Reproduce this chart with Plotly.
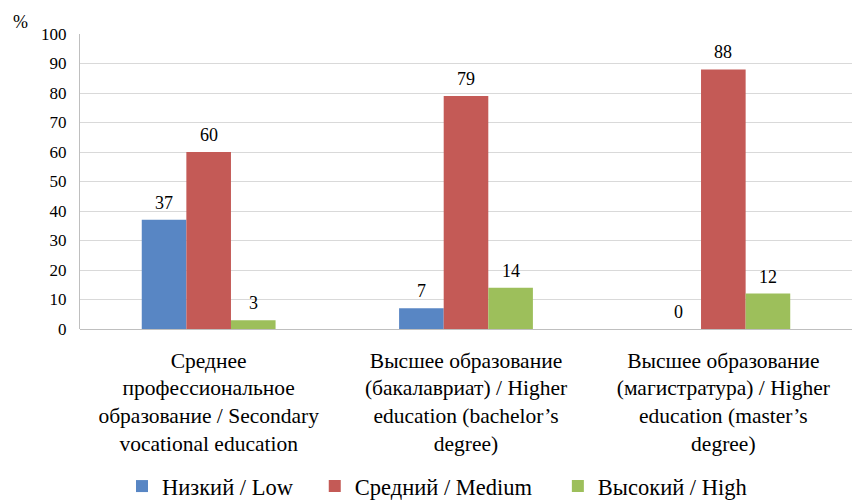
import plotly.graph_objects as go

categories = [
    "Среднее<br>профессиональное<br>образование / Secondary<br>vocational education",
    "Высшее образование<br>(бакалавриат) / Higher<br>education (bachelor’s<br>degree)",
    "Высшее образование<br>(магистратура) / Higher<br>education (master’s<br>degree)",
]
series_names = ["Низкий / Low", "Средний / Medium", "Высокий / High"]
low = [37, 7, 0]
medium = [60, 79, 88]
high = [3, 14, 12]
y_ticks = [0, 10, 20, 30, 40, 50, 60, 70, 80, 90, 100]

colors = ["#5886C4", "#C45A56", "#9DBF5B"]
FONT = "'Liberation Serif', 'Times New Roman', serif"
BARGAP = 0.48

# each series gets its own legend box so the entries can be spaced freely
legend_ids = ["legend", "legend2", "legend3"]
legend_x = [0.143, 0.369, 0.654]

x_idx = list(range(len(categories)))
values = [low, medium, high]

fig = go.Figure()
bar_w = (1 - BARGAP) / len(values)
annotations = []
for s, (name, vals, col) in enumerate(zip(series_names, values, colors)):
    fig.add_trace(go.Bar(
        x=x_idx, y=vals, name=name, legend=legend_ids[s],
        marker=dict(color=col, line=dict(width=0)),
    ))
    off = (s - (len(values) - 1) / 2) * bar_w
    for i, v in zip(x_idx, vals):
        annotations.append(dict(
            x=i + off, y=v, xref="x", yref="y", text=str(v),
            showarrow=False, yanchor="bottom", yshift=5,
            font=dict(family=FONT, size=18, color="#000000"),
        ))

# unit label above the value axis
annotations.append(dict(
    xref="paper", yref="paper", x=-0.077, y=1.04,
    xanchor="center", yanchor="middle", text="%", showarrow=False,
    font=dict(family=FONT, size=18, color="#000000"),
))

legend_style = dict(orientation="h", xref="container", yref="container",
                    y=0.031, yanchor="middle", xanchor="left",
                    font=dict(family=FONT, size=22.5, color="#000000"),
                    bgcolor="rgba(0,0,0,0)", borderwidth=0)

fig.update_layout(
    width=853, height=502,
    margin=dict(l=80, r=1, t=34, b=173, autoexpand=False),
    barmode="group", bargap=BARGAP, bargroupgap=0,
    plot_bgcolor="white", paper_bgcolor="white",
    font=dict(family=FONT, size=17, color="#000000"),
    showlegend=True,
    legend=dict(x=legend_x[0], **legend_style),
    legend2=dict(x=legend_x[1], **legend_style),
    legend3=dict(x=legend_x[2], **legend_style),
    annotations=annotations,
)
fig.update_xaxes(
    tickmode="array", tickvals=x_idx, ticktext=categories,
    range=[-0.5, len(categories) - 0.5], automargin=False,
    showgrid=False, showline=False, zeroline=False, ticks="",
    tickfont=dict(family=FONT, size=21.5), ticklabelstandoff=16,
)
fig.update_yaxes(
    range=[0, 100], tickvals=y_ticks, automargin=False,
    showgrid=True, gridcolor="#D9D9D9", gridwidth=1,
    showline=True, linecolor="#BFBFBF", linewidth=1,
    zeroline=True, zerolinecolor="#BFBFBF", zerolinewidth=1,
    ticks="", tickfont=dict(family=FONT, size=17), ticklabelstandoff=9,
)

fig.write_html("out.html")
